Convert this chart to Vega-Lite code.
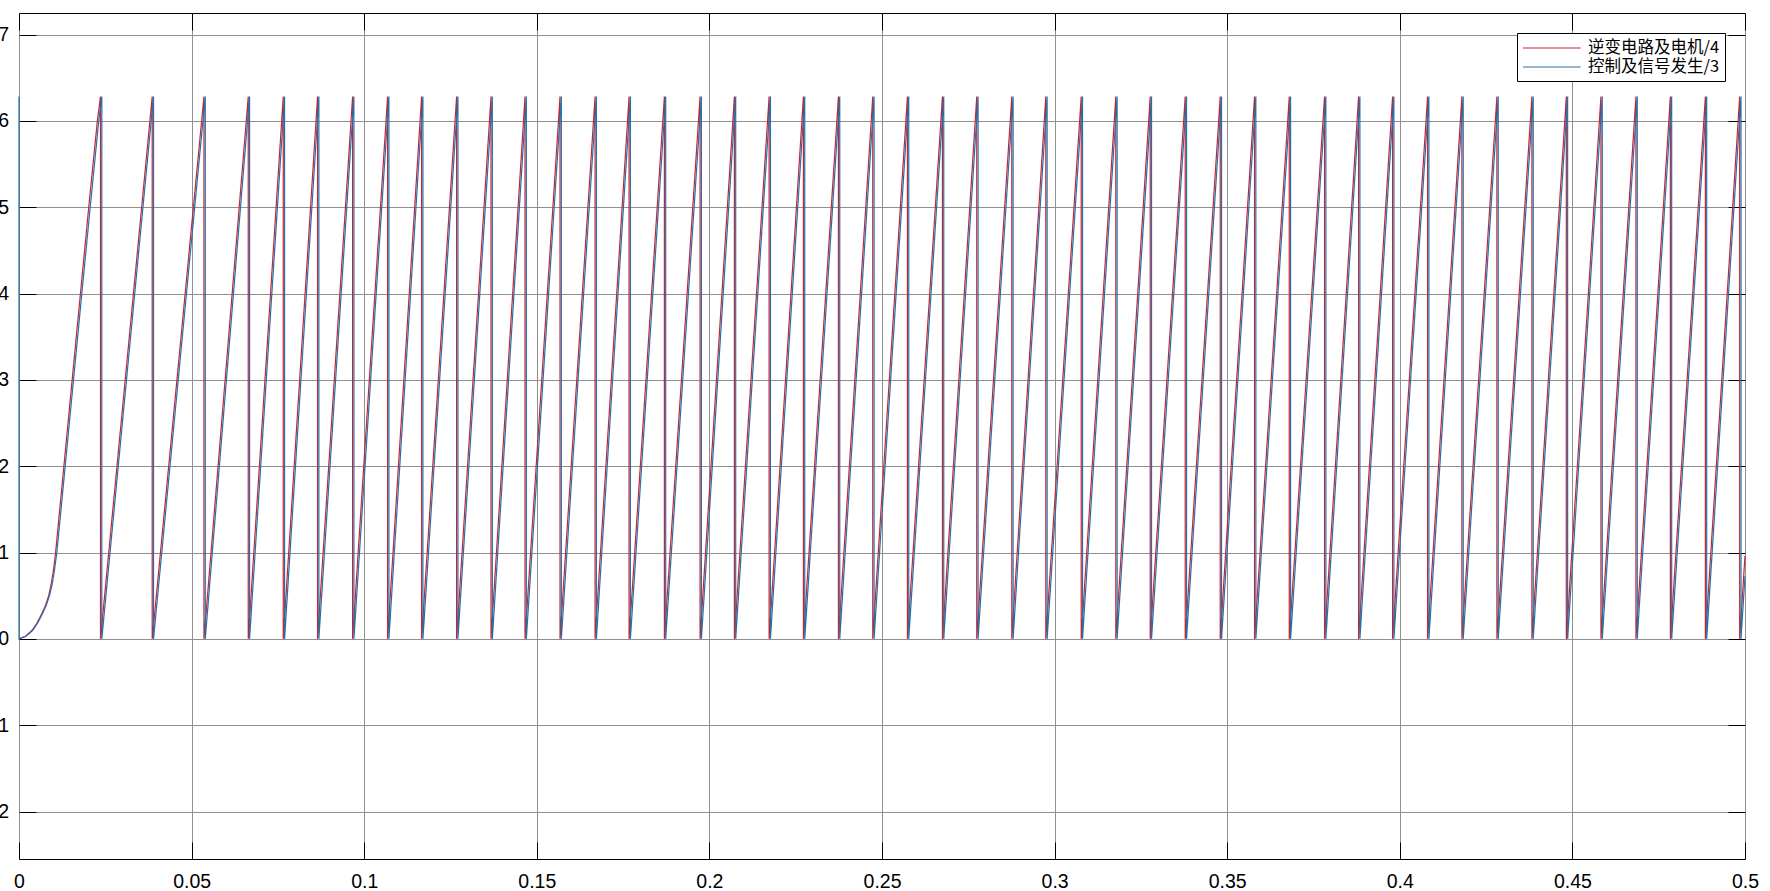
{
"$schema": "https://vega.github.io/schema/vega-lite/v6.json",
"width": 1726, "height": 846,
"autosize": {"type": "none"},
"padding": {"left": 19, "top": 13, "right": 25, "bottom": 32},
"background": "white",
"config": {"view": {"stroke": "black", "strokeWidth": 1}, "font": "Liberation Sans"},
"datasets": {
"blue": [
{"t":0,"v":6.2832,"i":0},{"t":0,"v":0,"i":1},{"t":0.002,"v":0.03,"i":2},{"t":0.004,"v":0.1,"i":3},{"t":0.0055,"v":0.19,"i":4},{"t":0.0069,"v":0.3,"i":5},{"t":0.0079,"v":0.39,"i":6},{"t":0.00884,"v":0.5,"i":7},{"t":0.0096,"v":0.63,"i":8},{"t":0.01029,"v":0.8,"i":9},{"t":0.01096,"v":1,"i":10},{"t":0.01218,"v":1.5,"i":11},{"t":0.01338,"v":2,"i":12},{"t":0.01579,"v":3,"i":13},{"t":0.0182,"v":4,"i":14},{"t":0.02063,"v":5,"i":15},{"t":0.0231,"v":6,"i":16},
{"t":0.02399,"v":6.2832,"i":17},{"t":0.02399,"v":0,"i":18},
{"t":0.03897,"v":6.2832,"i":19},{"t":0.03897,"v":0,"i":20},
{"t":0.05396,"v":6.2832,"i":21},{"t":0.05396,"v":0,"i":22},
{"t":0.06679,"v":6.2832,"i":23},{"t":0.06679,"v":0,"i":24},
{"t":0.07693,"v":6.2832,"i":25},{"t":0.07693,"v":0,"i":26},
{"t":0.08687,"v":6.2832,"i":27},{"t":0.08687,"v":0,"i":28},
{"t":0.09702,"v":6.2832,"i":29},{"t":0.09702,"v":0,"i":30},
{"t":0.10716,"v":6.2832,"i":31},{"t":0.10716,"v":0,"i":32},
{"t":0.11701,"v":6.2832,"i":33},{"t":0.11701,"v":0,"i":34},
{"t":0.12715,"v":6.2832,"i":35},{"t":0.12715,"v":0,"i":36},
{"t":0.13712,"v":6.2832,"i":37},{"t":0.13712,"v":0,"i":38},
{"t":0.14697,"v":6.2832,"i":39},{"t":0.14697,"v":0,"i":40},
{"t":0.15711,"v":6.2832,"i":41},{"t":0.15711,"v":0,"i":42},
{"t":0.16726,"v":6.2832,"i":43},{"t":0.16726,"v":0,"i":44},
{"t":0.17711,"v":6.2832,"i":45},{"t":0.17711,"v":0,"i":46},
{"t":0.18734,"v":6.2832,"i":47},{"t":0.18734,"v":0,"i":48},
{"t":0.19768,"v":6.2832,"i":49},{"t":0.19768,"v":0,"i":50},
{"t":0.20762,"v":6.2832,"i":51},{"t":0.20762,"v":0,"i":52},
{"t":0.21768,"v":6.2832,"i":53},{"t":0.21768,"v":0,"i":54},
{"t":0.22762,"v":6.2832,"i":55},{"t":0.22762,"v":0,"i":56},
{"t":0.23776,"v":6.2832,"i":57},{"t":0.23776,"v":0,"i":58},
{"t":0.2477,"v":6.2832,"i":59},{"t":0.2477,"v":0,"i":60},
{"t":0.25775,"v":6.2832,"i":61},{"t":0.25775,"v":0,"i":62},
{"t":0.26789,"v":6.2832,"i":63},{"t":0.26789,"v":0,"i":64},
{"t":0.27783,"v":6.2832,"i":65},{"t":0.27783,"v":0,"i":66},
{"t":0.28798,"v":6.2832,"i":67},{"t":0.28798,"v":0,"i":68},
{"t":0.29783,"v":6.2832,"i":69},{"t":0.29783,"v":0,"i":70},
{"t":0.30809,"v":6.2832,"i":71},{"t":0.30809,"v":0,"i":72},
{"t":0.31811,"v":6.2832,"i":73},{"t":0.31811,"v":0,"i":74},
{"t":0.32808,"v":6.2832,"i":75},{"t":0.32808,"v":0,"i":76},
{"t":0.33822,"v":6.2832,"i":77},{"t":0.33822,"v":0,"i":78},
{"t":0.34836,"v":6.2832,"i":79},{"t":0.34836,"v":0,"i":80},
{"t":0.3583,"v":6.2832,"i":81},{"t":0.3583,"v":0,"i":82},
{"t":0.36836,"v":6.2832,"i":83},{"t":0.36836,"v":0,"i":84},
{"t":0.37858,"v":6.2832,"i":85},{"t":0.37858,"v":0,"i":86},
{"t":0.38844,"v":6.2832,"i":87},{"t":0.38844,"v":0,"i":88},
{"t":0.39829,"v":6.2832,"i":89},{"t":0.39829,"v":0,"i":90},
{"t":0.40843,"v":6.2832,"i":91},{"t":0.40843,"v":0,"i":92},
{"t":0.41837,"v":6.2832,"i":93},{"t":0.41837,"v":0,"i":94},
{"t":0.42851,"v":6.2832,"i":95},{"t":0.42851,"v":0,"i":96},
{"t":0.43865,"v":6.2832,"i":97},{"t":0.43865,"v":0,"i":98},
{"t":0.44862,"v":6.2832,"i":99},{"t":0.44862,"v":0,"i":100},
{"t":0.45865,"v":6.2832,"i":101},{"t":0.45865,"v":0,"i":102},
{"t":0.46879,"v":6.2832,"i":103},{"t":0.46879,"v":0,"i":104},
{"t":0.47876,"v":6.2832,"i":105},{"t":0.47876,"v":0,"i":106},
{"t":0.4889,"v":6.2832,"i":107},{"t":0.4889,"v":0,"i":108},
{"t":0.49884,"v":6.2832,"i":109},{"t":0.49884,"v":0,"i":110},
{"t":0.5,"v":0.725,"i":111}
],
"red": [
{"t":0,"v":0,"i":0},{"t":0.0019,"v":0.03,"i":1},{"t":0.0038,"v":0.1,"i":2},{"t":0.0053,"v":0.19,"i":3},{"t":0.0067,"v":0.3,"i":4},{"t":0.0077,"v":0.39,"i":5},{"t":0.0086,"v":0.5,"i":6},{"t":0.0093,"v":0.63,"i":7},{"t":0.01,"v":0.8,"i":8},{"t":0.0106,"v":1,"i":9},{"t":0.0118,"v":1.5,"i":10},{"t":0.013,"v":2,"i":11},{"t":0.0154,"v":3,"i":12},{"t":0.0178,"v":4,"i":13},{"t":0.0202,"v":5,"i":14},{"t":0.0227,"v":6,"i":15},
{"t":0.02361,"v":6.2832,"i":16},{"t":0.02361,"v":0,"i":17},
{"t":0.03859,"v":6.2832,"i":18},{"t":0.03859,"v":0,"i":19},
{"t":0.05358,"v":6.2832,"i":20},{"t":0.05358,"v":0,"i":21},
{"t":0.06641,"v":6.2832,"i":22},{"t":0.06641,"v":0,"i":23},
{"t":0.07655,"v":6.2832,"i":24},{"t":0.07655,"v":0,"i":25},
{"t":0.08649,"v":6.2832,"i":26},{"t":0.08649,"v":0,"i":27},
{"t":0.09664,"v":6.2832,"i":28},{"t":0.09664,"v":0,"i":29},
{"t":0.10678,"v":6.2832,"i":30},{"t":0.10678,"v":0,"i":31},
{"t":0.11663,"v":6.2832,"i":32},{"t":0.11663,"v":0,"i":33},
{"t":0.12677,"v":6.2832,"i":34},{"t":0.12677,"v":0,"i":35},
{"t":0.13674,"v":6.2832,"i":36},{"t":0.13674,"v":0,"i":37},
{"t":0.14659,"v":6.2832,"i":38},{"t":0.14659,"v":0,"i":39},
{"t":0.15673,"v":6.2832,"i":40},{"t":0.15673,"v":0,"i":41},
{"t":0.16688,"v":6.2832,"i":42},{"t":0.16688,"v":0,"i":43},
{"t":0.17673,"v":6.2832,"i":44},{"t":0.17673,"v":0,"i":45},
{"t":0.18696,"v":6.2832,"i":46},{"t":0.18696,"v":0,"i":47},
{"t":0.1973,"v":6.2832,"i":48},{"t":0.1973,"v":0,"i":49},
{"t":0.20724,"v":6.2832,"i":50},{"t":0.20724,"v":0,"i":51},
{"t":0.2173,"v":6.2832,"i":52},{"t":0.2173,"v":0,"i":53},
{"t":0.22724,"v":6.2832,"i":54},{"t":0.22724,"v":0,"i":55},
{"t":0.23738,"v":6.2832,"i":56},{"t":0.23738,"v":0,"i":57},
{"t":0.24732,"v":6.2832,"i":58},{"t":0.24732,"v":0,"i":59},
{"t":0.25737,"v":6.2832,"i":60},{"t":0.25737,"v":0,"i":61},
{"t":0.26751,"v":6.2832,"i":62},{"t":0.26751,"v":0,"i":63},
{"t":0.27745,"v":6.2832,"i":64},{"t":0.27745,"v":0,"i":65},
{"t":0.2876,"v":6.2832,"i":66},{"t":0.2876,"v":0,"i":67},
{"t":0.29745,"v":6.2832,"i":68},{"t":0.29745,"v":0,"i":69},
{"t":0.30771,"v":6.2832,"i":70},{"t":0.30771,"v":0,"i":71},
{"t":0.31773,"v":6.2832,"i":72},{"t":0.31773,"v":0,"i":73},
{"t":0.3277,"v":6.2832,"i":74},{"t":0.3277,"v":0,"i":75},
{"t":0.33784,"v":6.2832,"i":76},{"t":0.33784,"v":0,"i":77},
{"t":0.34798,"v":6.2832,"i":78},{"t":0.34798,"v":0,"i":79},
{"t":0.35792,"v":6.2832,"i":80},{"t":0.35792,"v":0,"i":81},
{"t":0.36798,"v":6.2832,"i":82},{"t":0.36798,"v":0,"i":83},
{"t":0.3782,"v":6.2832,"i":84},{"t":0.3782,"v":0,"i":85},
{"t":0.38806,"v":6.2832,"i":86},{"t":0.38806,"v":0,"i":87},
{"t":0.39791,"v":6.2832,"i":88},{"t":0.39791,"v":0,"i":89},
{"t":0.40805,"v":6.2832,"i":90},{"t":0.40805,"v":0,"i":91},
{"t":0.41799,"v":6.2832,"i":92},{"t":0.41799,"v":0,"i":93},
{"t":0.42813,"v":6.2832,"i":94},{"t":0.42813,"v":0,"i":95},
{"t":0.43827,"v":6.2832,"i":96},{"t":0.43827,"v":0,"i":97},
{"t":0.44824,"v":6.2832,"i":98},{"t":0.44824,"v":0,"i":99},
{"t":0.45827,"v":6.2832,"i":100},{"t":0.45827,"v":0,"i":101},
{"t":0.46841,"v":6.2832,"i":102},{"t":0.46841,"v":0,"i":103},
{"t":0.47838,"v":6.2832,"i":104},{"t":0.47838,"v":0,"i":105},
{"t":0.48852,"v":6.2832,"i":106},{"t":0.48852,"v":0,"i":107},
{"t":0.49846,"v":6.2832,"i":108},{"t":0.49846,"v":0,"i":109},
{"t":0.5,"v":0.963,"i":110}
]
},
"layer": [
{
"data": {"name": "red"},
"mark": {"type": "line", "strokeWidth": 1.2},
"encoding": {
"x": {"field": "t", "type": "quantitative", "scale": {"domain": [0, 0.5], "nice": false, "zero": false},
"axis": {"orient": "bottom", "title": null, "values": [0,0.05,0.1,0.15,0.2,0.25,0.3,0.35,0.4,0.45,0.5], "format": "~g", "grid": true, "gridColor": "#8f8f8f", "gridWidth": 1, "domain": false, "tickSize": -17, "tickColor": "black", "tickWidth": 1, "labelPadding": 30.5, "labelFontSize": 19.5, "labelColor": "black", "labelFont": "Liberation Sans", "labelFlush": false, "labelOverlap": false}},
"y": {"field": "v", "type": "quantitative", "scale": {"domain": [-2.55, 7.25], "nice": false, "zero": false},
"axis": {"orient": "left", "title": null, "values": [-2,-1,0,1,2,3,4,5,6,7], "format": "~g", "grid": true, "gridColor": "#8f8f8f", "gridWidth": 1, "domain": false, "tickSize": -17, "tickColor": "black", "tickWidth": 1, "labelPadding": 27.5, "labelFontSize": 19.5, "labelColor": "black", "labelFont": "Liberation Sans", "labelFlush": false, "labelOverlap": false}},
"color": {"datum": "逆变电路及电机/4", "type": "nominal",
"scale": {"domain": ["逆变电路及电机/4", "控制及信号发生/3"], "range": ["#cc2230", "#2470a8"]},
"legend": {"title": null, "orient": "none", "legendX": 1498, "legendY": 20, "symbolType": "M-1,0H5.4", "symbolSize": 324, "symbolStrokeWidth": 1.2, "labelFont": "Noto Sans CJK SC", "labelFontSize": 16.5, "labelColor": "black", "fillColor": "white", "strokeColor": "black", "padding": 5, "rowPadding": 0, "labelOffset": 46, "labelLimit": 0}},
"order": {"field": "i", "type": "quantitative"}
}
},
{
"data": {"name": "blue"},
"mark": {"type": "line", "strokeWidth": 1.2},
"encoding": {
"x": {"field": "t", "type": "quantitative", "axis": null},
"y": {"field": "v", "type": "quantitative", "axis": null},
"color": {"datum": "控制及信号发生/3", "type": "nominal"},
"order": {"field": "i", "type": "quantitative"}
}
},
{
"data": {"name": "blue"},
"mark": {"type": "point", "opacity": 0},
"encoding": {
"x": {"field": "t", "type": "quantitative", "axis": {"orient": "top", "title": null, "values": [0,0.05,0.1,0.15,0.2,0.25,0.3,0.35,0.4,0.45,0.5], "labels": false, "grid": false, "domain": false, "tickSize": -17, "tickColor": "black", "tickWidth": 1}},
"y": {"field": "v", "type": "quantitative", "axis": {"orient": "right", "title": null, "values": [-2,-1,0,1,2,3,4,5,6,7], "labels": false, "grid": false, "domain": false, "tickSize": -17, "tickColor": "black", "tickWidth": 1}}
}
}
],
"resolve": {"axis": {"x": "independent", "y": "independent"}}
}
